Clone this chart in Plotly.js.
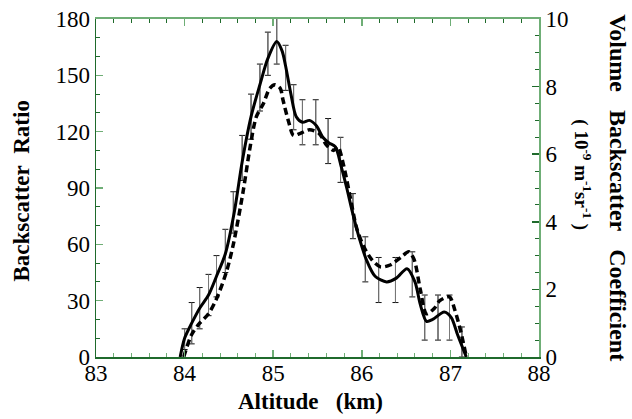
<!DOCTYPE html>
<html>
<head>
<meta charset="utf-8">
<script src="https://cdn.plot.ly/plotly-3.0.1.min.js"></script>
<style>
html,body{margin:0;padding:0;background:#fff;}
#chart{width:632px;height:419px;}
</style>
</head>
<body>
<div id="chart"></div>
<script>
// Solid curve: backscatter ratio
var solidX = [83.95,84.00,84.08,84.17,84.27,84.36,84.46,84.56,84.65,84.75,84.85,84.94,85.04,85.10,85.14,85.20,85.26,85.33,85.41,85.49,85.56,85.63,85.70,85.77,85.83,85.90,85.98,86.05,86.15,86.28,86.39,86.51,86.60,86.66,86.73,86.80,86.93,87.01,87.08,87.18];
var solidY = [0,10,18,26,33,43,55,77,104,128,145,159,168,163,155,140,128,125,126,123,117,114,112,101,90,76,62,52,43,40,42,47,40,28,19,20,24,21,12,0];

// Dashed curve: volume backscatter coefficient (on ratio scale)
var dashX = [83.99,84.08,84.17,84.27,84.36,84.47,84.55,84.66,84.74,84.81,84.89,84.96,85.02,85.08,85.11,85.17,85.23,85.30,85.41,85.52,85.60,85.68,85.73,85.79,85.87,85.94,86.02,86.11,86.21,86.32,86.44,86.53,86.59,86.66,86.73,86.82,86.88,86.99,87.05,87.12,87.18];
var dashY = [0,12,18,23,31,45,60,88,112,128,135,143,145,143,137,126,118,119,121,119,113,110,112,103,85,69,59,52,48,49,53,56,52,36,23,26,30,32,25,13,0];

// Error bars: position, lower end, upper end
var errX = [84.00,84.08,84.17,84.27,84.36,84.46,84.55,84.65,84.75,84.85,84.94,85.04,85.14,85.23,85.33,85.48,85.62,85.76,85.90,86.04,86.19,86.38,86.57,86.71,86.86,86.99,87.13];
var errLow = [4,7,15,22,32,45,66,94,116,131,150,156,142,121,113,113,103,93,63,40,29,29,32,9,9,9,0];
var errHigh = [15,29,37,44,54,68,88,118,140,156,173,190,166,145,137,137,127,117,87,64,53,53,56,33,33,33,16];

var xTicks = [83,84,85,86,87,88];
var yLeftTicks = [0,30,60,90,120,150,180];
var yRightTicks = [0,2,4,6,8,10];

var errMid = errX.map(function(_, i){ return (errLow[i] + errHigh[i]) / 2; });
var errUp = errX.map(function(_, i){ return errHigh[i] - errMid[i]; });
var errDn = errX.map(function(_, i){ return errMid[i] - errLow[i]; });

var darkG = '#1f6a2c';
var lightG = '#6fae76';
var serif = 'Liberation Serif';

var traces = [
  {x: errX, y: errMid, mode: 'markers', marker: {color: 'rgba(0,0,0,0)', size: 1},
   cliponaxis: false, hoverinfo: 'skip', showlegend: false,
   error_y: {type: 'data', symmetric: false, array: errUp, arrayminus: errDn, color: '#111', thickness: 1, width: 3}},
  {x: errX, y: errMid, mode: 'markers', marker: {color: 'rgba(0,0,0,0)', size: 1},
   cliponaxis: false, hoverinfo: 'skip', showlegend: false,
   error_y: {type: 'data', symmetric: false, array: errUp, arrayminus: errDn, color: '#7a7a7a', thickness: 1, width: 0}},
  {x: dashX, y: dashY, mode: 'lines', line: {color: '#000', width: 3.5, dash: '7px,4px', shape: 'spline', smoothing: 0.8}, showlegend: false},
  {x: solidX, y: solidY, mode: 'lines', line: {color: '#000', width: 3, shape: 'spline', smoothing: 0.8}, showlegend: false},
  {x: [83], y: [0], xaxis: 'x2', yaxis: 'y2', mode: 'markers', marker: {color: 'rgba(0,0,0,0)'}, showlegend: false, hoverinfo: 'skip'},
  {x: [83], y: [0], xaxis: 'x3', yaxis: 'y', mode: 'markers', marker: {color: 'rgba(0,0,0,0)'}, showlegend: false, hoverinfo: 'skip'}
];

var layout = {
  width: 632, height: 419,
  margin: {l: 96, r: 93, t: 19, b: 62},
  paper_bgcolor: '#fff', plot_bgcolor: '#fff',
  showlegend: false,
  font: {family: serif, color: '#000', size: 22},
  xaxis: {range: [83, 88], tickvals: xTicks, showticklabels: false, ticks: 'inside', ticklen: 7, tickwidth: 1.5,
    tickcolor: lightG, showline: true, linecolor: darkG, linewidth: 1.5, showgrid: false, zeroline: false,
    minor: {dtick: 0.2, ticks: 'inside', ticklen: 4, tickcolor: lightG, tickwidth: 1, showgrid: false}},
  xaxis3: {range: [83, 88], overlaying: 'x', anchor: 'free', position: 0, side: 'bottom',
    tickvals: xTicks, ticktext: xTicks.map(String), ticks: '', showline: false, showgrid: false, zeroline: false,
    tickfont: {family: serif, size: 23, color: '#000'}},
  xaxis2: {range: [83, 88], overlaying: 'x', side: 'top', showticklabels: false, tickvals: xTicks, ticks: 'inside', ticklen: 7, tickwidth: 1.5,
    tickcolor: lightG, showline: true, linecolor: lightG, linewidth: 2, showgrid: false, zeroline: false,
    minor: {dtick: 0.2, ticks: 'inside', ticklen: 4, tickcolor: darkG, tickwidth: 1, showgrid: false}},
  yaxis: {range: [0, 180], tickvals: yLeftTicks, ticktext: yLeftTicks.map(String), ticksuffix: '\u00a0', ticks: 'inside', ticklen: 7, tickwidth: 1.5,
    tickcolor: lightG, showline: true, linecolor: darkG, linewidth: 1.5, showgrid: false, zeroline: false,
    tickfont: {family: serif, size: 23, color: '#000'},
    minor: {dtick: 10, ticks: 'inside', ticklen: 4, tickcolor: darkG, tickwidth: 1, showgrid: false}},
  yaxis2: {range: [0, 10], overlaying: 'y', side: 'right', tickvals: yRightTicks, ticktext: yRightTicks.map(String), tickprefix: '\u00a0', ticks: 'inside', ticklen: 7, tickwidth: 1.5,
    tickcolor: darkG, showline: true, linecolor: lightG, linewidth: 2, showgrid: false, zeroline: false,
    tickfont: {family: serif, size: 23, color: '#000'},
    minor: {dtick: 0.5, ticks: 'inside', ticklen: 4, tickcolor: darkG, tickwidth: 1, showgrid: false}},
  annotations: [
    {text: '<b>Backscatter\u00a0\u00a0Ratio</b>', xref: 'paper', yref: 'paper', x: -0.169, y: 0.49, textangle: -90,
     showarrow: false, xanchor: 'center', yanchor: 'middle', font: {family: serif, size: 23, color: '#000'}},
    {text: '<b>Altitude\u00a0\u00a0\u00a0(km)</b>', xref: 'paper', yref: 'paper', x: 0.484, y: -0.133,
     showarrow: false, xanchor: 'center', yanchor: 'middle', font: {family: serif, size: 23, color: '#000'}},
    {text: '<b>Volume\u00a0\u00a0\u00a0Backscatter\u00a0\u00a0\u00a0Coefficient</b>', xref: 'paper', yref: 'paper', x: 1.178, y: 0.5, textangle: 90,
     showarrow: false, xanchor: 'center', yanchor: 'middle', font: {family: serif, size: 24, color: '#000'}},
    {text: '<b>(\u00a010<sup>-9</sup>\u00a0m<sup>-1</sup>sr<sup>-1</sup>\u00a0)</b>', xref: 'paper', yref: 'paper', x: 1.099, y: 0.538, textangle: 90,
     showarrow: false, xanchor: 'center', yanchor: 'middle', font: {family: serif, size: 19, color: '#000'}}
  ]
};

Plotly.newPlot('chart', traces, layout, {displayModeBar: false, staticPlot: true});
</script>
</body>
</html>
